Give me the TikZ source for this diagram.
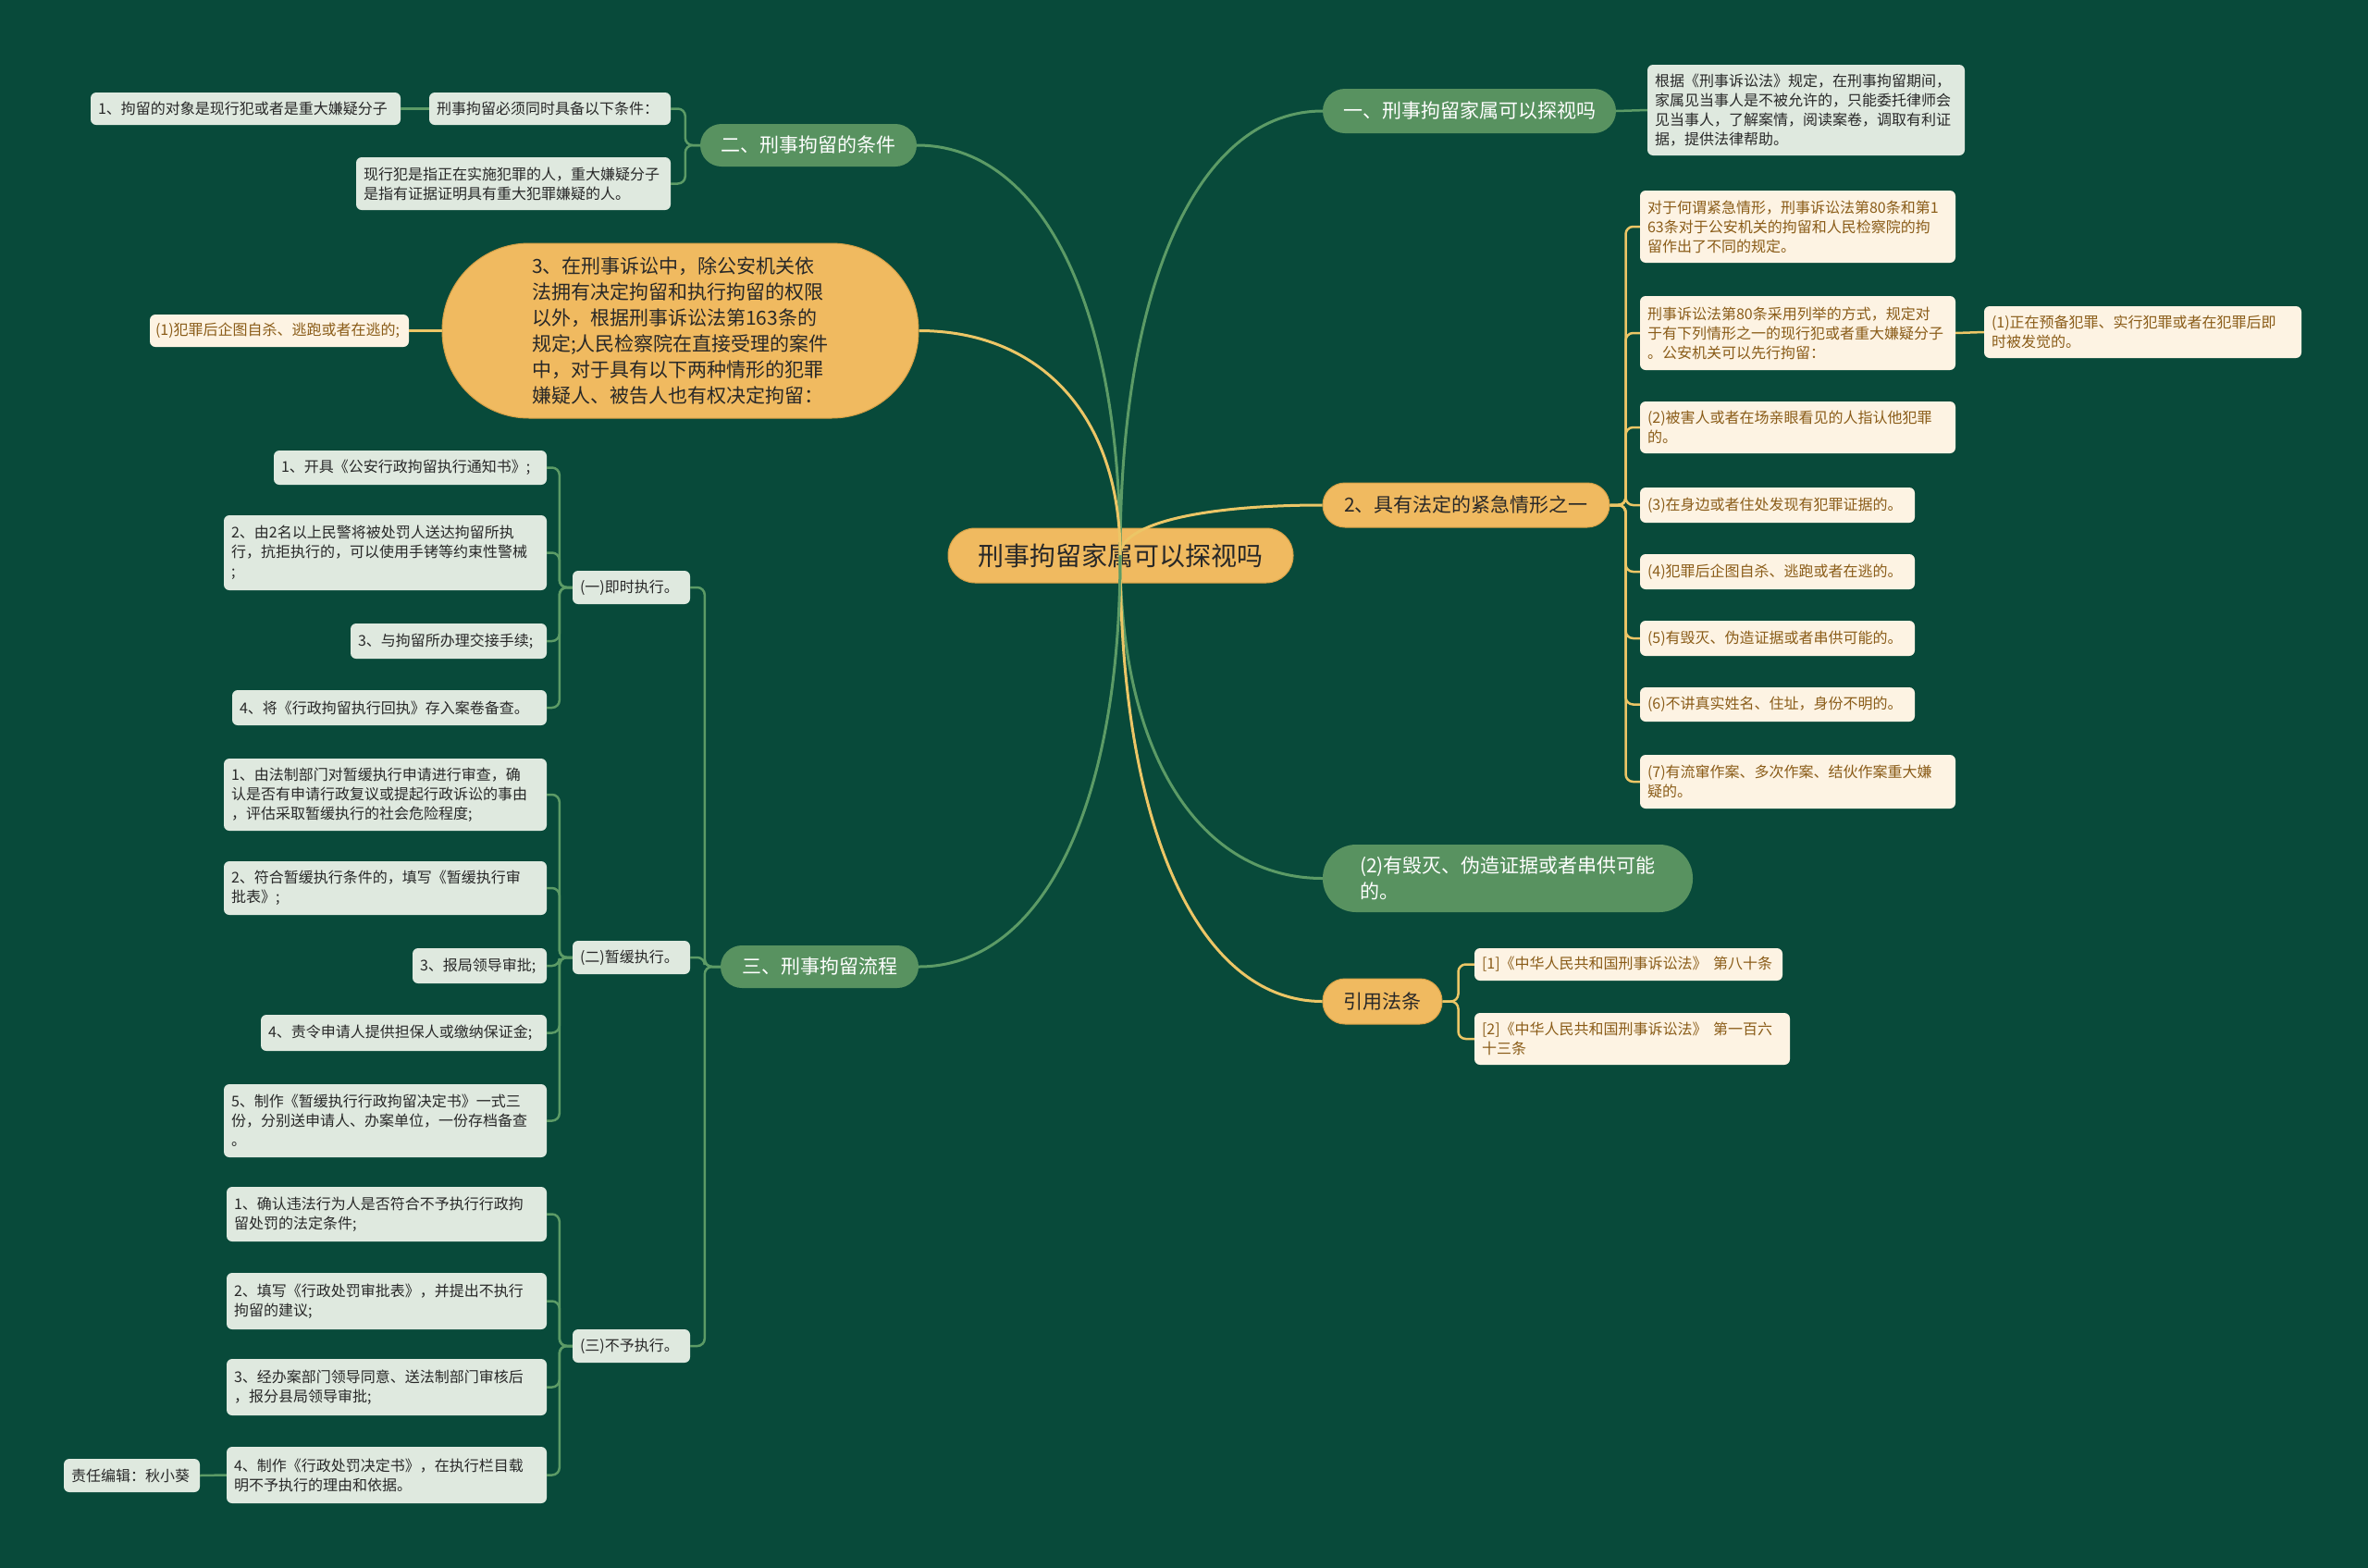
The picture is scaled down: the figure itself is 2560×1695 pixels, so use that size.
\documentclass[tikz,border=0pt]{standalone}
\usepackage{fontspec}
\newfontfamily\cjk{Noto Sans CJK SC}
\usetikzlibrary{calc}
\definecolor{bg}{RGB}{8,74,58}
\definecolor{pillgreen}{RGB}{88,146,96}
\definecolor{lightbox}{RGB}{223,233,223}
\definecolor{darktext}{RGB}{40,40,40}
\definecolor{orangefill}{RGB}{240,186,96}
\definecolor{orangedark}{RGB}{214,160,70}
\definecolor{creamfill}{RGB}{253,243,227}
\definecolor{browntext}{RGB}{138,92,24}
\definecolor{linegreen}{RGB}{92,155,102}
\definecolor{lineyellow}{RGB}{236,198,102}
\tikzset{
  lbox/.style={fill=lightbox, text=darktext, rounded corners=6pt, inner xsep=8pt, inner ysep=0pt, align=left, font=\cjk\fontsize{16}{21}\selectfont},
  cbox/.style={lbox, fill=creamfill, text=browntext},
  gpill/.style={fill=pillgreen, text=white, inner sep=0pt, align=left, font=\cjk\fontsize{21}{28}\selectfont},
  opill/.style={fill=orangefill, draw=orangedark, line width=1pt, text=darktext, inner sep=0pt, align=left, font=\cjk\fontsize{21}{28}\selectfont},
  glink/.style={draw=linegreen, line width=2.5pt, rounded corners=8pt},
  ylink/.style={draw=lineyellow, line width=2.5pt, rounded corners=8pt},
  mg/.style={draw=linegreen, line width=3pt},
  my/.style={draw=lineyellow, line width=3pt},
}
\newcommand\mlink[2]{\draw[#1] (c0) .. controls ($(c0)!0.625!(c0|-#2)$) and ($(c0|-#2)!0.4!(#2)$) .. (#2);}
\begin{document}
\begin{tikzpicture}[x=1pt,y=-1pt]
\fill[bg] (0,0) rectangle (2560,1695);
\path[use as bounding box] (0,0) rectangle (2560,1695);

% central
\node[opill, rounded corners=29pt, minimum width=373pt, minimum height=59pt, font=\cjk\fontsize{28}{34}\selectfont, align=center] (C) at (1211.5,600.5) {刑事拘留家属可以探视吗};
\coordinate (c0) at (1211,600);

% main branches
\node[gpill, rounded corners=24pt, minimum width=317pt, minimum height=48pt] (R1) at (1588.5,120) {一、刑事拘留家属可以探视吗};
\node[opill, rounded corners=24pt, minimum width=310pt, minimum height=48pt] (R2) at (1585,546) {2、具有法定的紧急情形之一};
\node[gpill, rounded corners=36pt, minimum width=400pt, minimum height=73pt] (R3) at (1630,949.5) {(2)有毁灭、伪造证据或者串供可能\\的。};
\node[opill, rounded corners=24pt, minimum width=129pt, minimum height=49pt] (R4) at (1494.5,1082.5) {引用法条};
\node[gpill, rounded corners=23pt, minimum width=234pt, minimum height=46pt] (L1) at (874,157) {二、刑事拘留的条件};
\node[opill, rounded corners=94pt, minimum width=515pt, minimum height=189pt] (L2) at (735.5,357.5) {3、在刑事诉讼中，除公安机关依\\法拥有决定拘留和执行拘留的权限\\以外，根据刑事诉讼法第163条的\\规定;人民检察院在直接受理的案件\\中，对于具有以下两种情形的犯罪\\嫌疑人、被告人也有权决定拘留：};
\node[gpill, rounded corners=23pt, minimum width=214pt, minimum height=46pt] (L3) at (886,1045) {三、刑事拘留流程};

\mlink{mg}{R1.west}
\mlink{my}{R2.west}
\mlink{mg}{R3.west}
\mlink{my}{R4.west}
\mlink{mg}{L1.east}
\mlink{my}{L2.east}
\mlink{mg}{L3.east}

% right side leaves
\node[lbox, text width=327pt, minimum height=98pt] (R1a) at (1952.5,119) {根据《刑事诉讼法》规定，在刑事拘留期间，\\家属见当事人是不被允许的，只能委托律师会\\见当事人，了解案情，阅读案卷，调取有利证\\据，提供法律帮助。};
\draw[glink] (R1.east) -- (R1a.west);

\node[cbox, text width=325pt, minimum height=78pt] (R2a) at (1943.5,245) {对于何谓紧急情形，刑事诉讼法第80条和第1\\63条对于公安机关的拘留和人民检察院的拘\\留作出了不同的规定。};
\node[cbox, text width=325pt, minimum height=80pt] (R2b) at (1943.5,360) {刑事诉讼法第80条采用列举的方式，规定对\\于有下列情形之一的现行犯或者重大嫌疑分子\\。公安机关可以先行拘留：};
\node[cbox, text width=327pt, minimum height=56pt] (R2b1) at (2316.5,359) {(1)正在预备犯罪、实行犯罪或者在犯罪后即\\时被发觉的。};
\node[cbox, text width=325pt, minimum height=56pt] (R2c) at (1943.5,462) {(2)被害人或者在场亲眼看见的人指认他犯罪\\的。};
\node[cbox, text width=281pt, minimum height=38pt] (R2d) at (1921.5,546) {(3)在身边或者住处发现有犯罪证据的。};
\node[cbox, text width=281pt, minimum height=38pt] (R2e) at (1921.5,618) {(4)犯罪后企图自杀、逃跑或者在逃的。};
\node[cbox, text width=281pt, minimum height=38pt] (R2f) at (1921.5,690) {(5)有毁灭、伪造证据或者串供可能的。};
\node[cbox, text width=281pt, minimum height=37pt] (R2g) at (1921.5,761.5) {(6)不讲真实姓名、住址，身份不明的。};
\node[cbox, text width=325pt, minimum height=58pt] (R2h) at (1943.5,845) {(7)有流窜作案、多次作案、结伙作案重大嫌\\疑的。};
\foreach \n in {R2a,R2b,R2c,R2d,R2e,R2f,R2g,R2h}
  \draw[ylink] (R2.east) -- ++(17,0) |- (\n.west);
\draw[ylink] (R2b.east) -- (R2b1.west);

\node[cbox, text width=317pt, minimum height=35pt] (R4a) at (1760.5,1042.5) {[1]《中华人民共和国刑事诉讼法》\hspace{0.4em}第八十条};
\node[cbox, text width=325pt, minimum height=56pt] (R4b) at (1764.5,1123) {[2]《中华人民共和国刑事诉讼法》\hspace{0.4em}第一百六\\十三条};
\foreach \n in {R4a,R4b}
  \draw[ylink] (R4.east) -- ++(17,0) |- (\n.west);

% left side: conditions
\node[lbox, text width=245pt, minimum height=35pt] (L1a) at (594.5,117.5) {刑事拘留必须同时具备以下条件：};
\node[lbox, text width=319pt, minimum height=35pt] (L1a1) at (265.5,117.5) {1、拘留的对象是现行犯或者是重大嫌疑分子};
\node[lbox, text width=324pt, minimum height=57pt] (L1b) at (555,198.5) {现行犯是指正在实施犯罪的人，重大嫌疑分子\\是指有证据证明具有重大犯罪嫌疑的人。};
\foreach \n in {L1a,L1b}
  \draw[glink] (L1.west) -- ++(-16,0) |- (\n.east);
\draw[glink] (L1a.west) -- (L1a1.east);

\node[cbox, text width=268pt, minimum height=35pt, inner xsep=6pt] (L2a) at (302,357.5) {(1)犯罪后企图自杀、逃跑或者在逃的;};
\draw[ylink] (L2.west) -- (L2a.east);

% left side: procedure
\node[lbox, text width=111pt, minimum height=36pt] (La) at (682.5,635) {(一)即时执行。};
\node[lbox, text width=111pt, minimum height=36pt] (Lb) at (682.5,1035) {(二)暂缓执行。};
\node[lbox, text width=111pt, minimum height=36pt] (Lc) at (682.5,1455) {(三)不予执行。};
\foreach \n in {La,Lb,Lc}
  \draw[glink] (L3.west) -- ++(-17,0) |- (\n.east);

\node[lbox, text width=279pt, minimum height=37pt] (a1) at (443.5,505.5) {1、开具《公安行政拘留执行通知书》;};
\node[lbox, text width=333pt, minimum height=81pt] (a2) at (416.5,597.5) {2、由2名以上民警将被处罚人送达拘留所执\\行，抗拒执行的，可以使用手铐等约束性警械\\;};
\node[lbox, text width=196pt, minimum height=38pt] (a3) at (485,693) {3、与拘留所办理交接手续;};
\node[lbox, text width=324pt, minimum height=38pt] (a4) at (421,765) {4、将《行政拘留执行回执》存入案卷备查。};
\foreach \n in {a1,a2,a3,a4}
  \draw[glink] (La.west) -- ++(-14,0) |- (\n.east);

\node[lbox, text width=333pt, minimum height=78pt] (b1) at (416.5,859) {1、由法制部门对暂缓执行申请进行审查，确\\认是否有申请行政复议或提起行政诉讼的事由\\，评估采取暂缓执行的社会危险程度;};
\node[lbox, text width=333pt, minimum height=58pt] (b2) at (416.5,960) {2、符合暂缓执行条件的，填写《暂缓执行审\\批表》;};
\node[lbox, text width=129pt, minimum height=38pt] (b3) at (518.5,1044) {3、报局领导审批;};
\node[lbox, text width=293pt, minimum height=39pt] (b4) at (436.5,1116.5) {4、责令申请人提供担保人或缴纳保证金;};
\node[lbox, text width=333pt, minimum height=79pt] (b5) at (416.5,1211.5) {5、制作《暂缓执行行政拘留决定书》一式三\\份，分别送申请人、办案单位，一份存档备查\\。};
\foreach \n in {b1,b2,b3,b4,b5}
  \draw[glink] (Lb.west) -- ++(-14,0) |- (\n.east);

\node[lbox, text width=330pt, minimum height=59pt] (e1) at (418,1312.5) {1、确认违法行为人是否符合不予执行行政拘\\留处罚的法定条件;};
\node[lbox, text width=330pt, minimum height=61pt] (e2) at (418,1406.5) {2、填写《行政处罚审批表》，并提出不执行\\拘留的建议;};
\node[lbox, text width=330pt, minimum height=61pt] (e3) at (418,1499.5) {3、经办案部门领导同意、送法制部门审核后\\，报分县局领导审批;};
\node[lbox, text width=330pt, minimum height=61pt] (e4) at (418,1594.5) {4、制作《行政处罚决定书》，在执行栏目载\\明不予执行的理由和依据。};
\foreach \n in {e1,e2,e3,e4}
  \draw[glink] (Lc.west) -- ++(-14,0) |- (\n.east);

\node[lbox, text width=131pt, minimum height=36pt] (ed) at (142.5,1595) {责任编辑：秋小葵};
\draw[glink] (e4.west) -- (ed.east);
\end{tikzpicture}
\end{document}
